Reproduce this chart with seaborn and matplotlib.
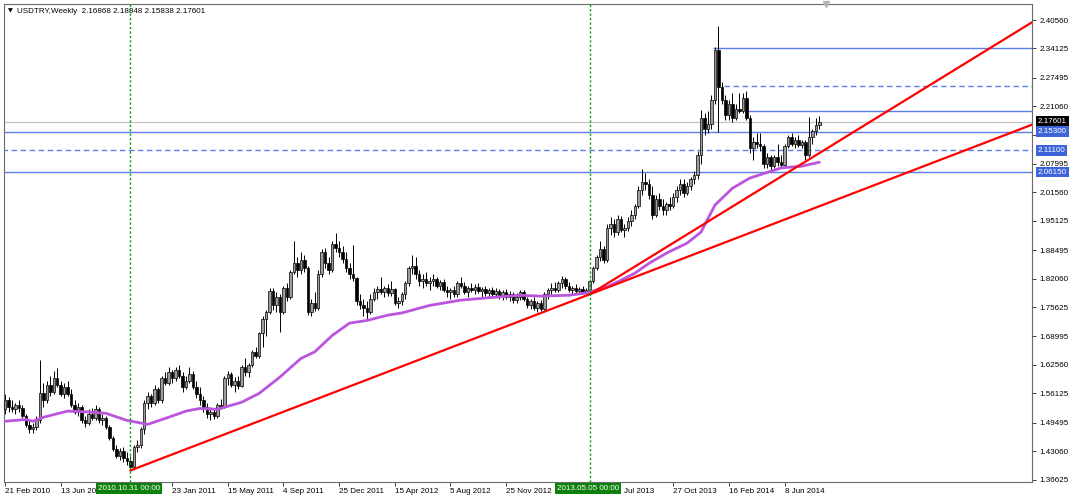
import numpy as np
import pandas as pd
import seaborn as sns
import matplotlib.pyplot as plt

sns.set_theme(style="white")
plt.rcParams['font.family'] = ['Liberation Sans', 'DejaVu Sans']

# weekly USDTRY candles, one per week from 21 Feb 2010 to 17 Aug 2014
opens = [1.525, 1.545, 1.530, 1.525, 1.535, 1.528, 1.510, 1.490, 1.480, 1.485,
         1.500, 1.561, 1.545, 1.580, 1.565, 1.595, 1.580, 1.560, 1.575, 1.560,
         1.535, 1.520, 1.530, 1.500, 1.495, 1.515, 1.505, 1.525, 1.500, 1.505,
         1.485, 1.460, 1.435, 1.420, 1.430, 1.415, 1.408, 1.395, 1.440, 1.445,
         1.480, 1.540, 1.555, 1.540, 1.570, 1.545, 1.595, 1.585, 1.610, 1.595,
         1.615, 1.600, 1.575, 1.590, 1.605, 1.575, 1.560, 1.545, 1.530, 1.515,
         1.520, 1.510, 1.535, 1.530, 1.595, 1.605, 1.580, 1.590, 1.578, 1.620,
         1.610, 1.625, 1.655, 1.645, 1.697, 1.730, 1.745, 1.792, 1.760, 1.780,
         1.745, 1.800, 1.780, 1.835, 1.855, 1.840, 1.862, 1.845, 1.745, 1.765,
         1.755, 1.830, 1.880, 1.855, 1.840, 1.900, 1.890, 1.880, 1.865, 1.845,
         1.830, 1.822, 1.770, 1.760, 1.755, 1.745, 1.775, 1.790, 1.798, 1.790,
         1.800, 1.788, 1.798, 1.765, 1.770, 1.785, 1.810, 1.845, 1.850, 1.830,
         1.815, 1.820, 1.810, 1.815, 1.820, 1.805, 1.812, 1.795, 1.790, 1.795,
         1.785, 1.810, 1.805, 1.790, 1.800, 1.795, 1.802, 1.792, 1.798, 1.788,
         1.795, 1.785, 1.792, 1.780, 1.790, 1.780, 1.785, 1.772, 1.780, 1.790,
         1.775, 1.760, 1.770, 1.755, 1.765, 1.752, 1.785, 1.795, 1.800, 1.795,
         1.810, 1.820, 1.805, 1.795, 1.800, 1.792, 1.798, 1.790, 1.795, 1.815,
         1.845, 1.870, 1.888, 1.862, 1.935, 1.945, 1.925, 1.955, 1.930, 1.935,
         1.950, 1.965, 1.985, 2.020, 2.040, 2.035, 2.010, 1.965, 2.000, 1.985,
         1.975, 1.990, 1.985, 2.005, 2.020, 2.035, 2.015, 2.030, 2.045, 2.055,
         2.100, 2.185, 2.160, 2.170, 2.225, 2.338, 2.255, 2.225, 2.190, 2.215,
         2.185, 2.205, 2.200, 2.230, 2.185, 2.115, 2.130, 2.125, 2.120, 2.080,
         2.095, 2.075, 2.095, 2.085, 2.078, 2.120, 2.140, 2.125, 2.135, 2.122,
         2.130, 2.100, 2.140, 2.155, 2.16868]
highs = [1.560, 1.552, 1.545, 1.540, 1.545, 1.535, 1.515, 1.500, 1.495, 1.510,
         1.636, 1.585, 1.590, 1.600, 1.612, 1.618, 1.590, 1.585, 1.590, 1.570,
         1.545, 1.540, 1.535, 1.510, 1.525, 1.528, 1.535, 1.530, 1.515, 1.510,
         1.490, 1.465, 1.445, 1.438, 1.440, 1.428, 1.420, 1.445, 1.455, 1.485,
         1.545, 1.565, 1.560, 1.580, 1.575, 1.600, 1.610, 1.620, 1.615, 1.620,
         1.625, 1.610, 1.600, 1.620, 1.612, 1.590, 1.575, 1.555, 1.540, 1.530,
         1.528, 1.540, 1.548, 1.600, 1.612, 1.610, 1.598, 1.600, 1.625, 1.640,
         1.630, 1.660, 1.665, 1.700, 1.735, 1.750, 1.800, 1.800, 1.790, 1.785,
         1.805, 1.810, 1.840, 1.905, 1.870, 1.880, 1.875, 1.850, 1.775, 1.790,
         1.840, 1.888, 1.890, 1.870, 1.905, 1.923, 1.905, 1.895, 1.880, 1.855,
         1.896, 1.825, 1.785, 1.775, 1.770, 1.785, 1.800, 1.805, 1.825, 1.805,
         1.808, 1.815, 1.800, 1.780, 1.790, 1.815, 1.850, 1.875, 1.870, 1.840,
         1.830, 1.835, 1.825, 1.830, 1.825, 1.818, 1.820, 1.805, 1.800, 1.805,
         1.815, 1.825, 1.812, 1.805, 1.810, 1.808, 1.810, 1.802, 1.805, 1.800,
         1.802, 1.800, 1.798, 1.795, 1.798, 1.792, 1.790, 1.788, 1.795, 1.795,
         1.780, 1.775, 1.778, 1.770, 1.772, 1.790, 1.800, 1.810, 1.812, 1.815,
         1.826, 1.825, 1.812, 1.805, 1.808, 1.802, 1.805, 1.800, 1.820, 1.850,
         1.875, 1.905, 1.895, 1.945, 1.960, 1.955, 1.965, 1.962, 1.945, 1.960,
         1.975, 1.990, 2.030, 2.068, 2.060, 2.045, 2.030, 2.010, 2.015, 2.000,
         1.995, 2.005, 2.015, 2.030, 2.045, 2.045, 2.040, 2.050, 2.065, 2.110,
         2.201, 2.195, 2.200, 2.235, 2.345, 2.391, 2.265, 2.235, 2.225, 2.240,
         2.215, 2.240, 2.240, 2.245, 2.190, 2.140, 2.150, 2.150, 2.125, 2.105,
         2.100, 2.100, 2.125, 2.100, 2.125, 2.145, 2.150, 2.140, 2.145, 2.135,
         2.135, 2.186, 2.160, 2.185, 2.18848]
lows = [1.515, 1.520, 1.518, 1.515, 1.520, 1.505, 1.485, 1.472, 1.472, 1.478,
        1.495, 1.530, 1.540, 1.555, 1.560, 1.575, 1.555, 1.550, 1.555, 1.530,
        1.515, 1.510, 1.495, 1.485, 1.490, 1.500, 1.500, 1.495, 1.490, 1.480,
        1.455, 1.430, 1.415, 1.410, 1.405, 1.398, 1.387, 1.390, 1.428, 1.438,
        1.470, 1.525, 1.530, 1.535, 1.540, 1.540, 1.580, 1.580, 1.585, 1.590,
        1.595, 1.565, 1.570, 1.585, 1.570, 1.550, 1.535, 1.520, 1.505, 1.500,
        1.502, 1.505, 1.525, 1.528, 1.580, 1.575, 1.565, 1.570, 1.575, 1.600,
        1.598, 1.620, 1.640, 1.640, 1.665, 1.690, 1.740, 1.750, 1.745, 1.700,
        1.740, 1.770, 1.775, 1.830, 1.825, 1.830, 1.835, 1.738, 1.735, 1.748,
        1.750, 1.825, 1.845, 1.830, 1.835, 1.880, 1.870, 1.855, 1.835, 1.820,
        1.815, 1.760, 1.752, 1.735, 1.730, 1.740, 1.770, 1.775, 1.785, 1.780,
        1.782, 1.782, 1.760, 1.755, 1.762, 1.775, 1.805, 1.830, 1.820, 1.805,
        1.800, 1.805, 1.795, 1.805, 1.800, 1.795, 1.790, 1.780, 1.775, 1.780,
        1.780, 1.800, 1.785, 1.780, 1.790, 1.785, 1.788, 1.780, 1.782, 1.780,
        1.778, 1.780, 1.775, 1.772, 1.775, 1.770, 1.765, 1.765, 1.772, 1.770,
        1.755, 1.752, 1.750, 1.745, 1.748, 1.750, 1.775, 1.785, 1.790, 1.790,
        1.800, 1.798, 1.790, 1.785, 1.788, 1.785, 1.788, 1.786, 1.786, 1.810,
        1.840, 1.860, 1.855, 1.858, 1.920, 1.915, 1.920, 1.925, 1.915, 1.928,
        1.940, 1.955, 1.980, 2.010, 2.020, 2.000, 1.955, 1.960, 1.975, 1.965,
        1.965, 1.975, 1.980, 1.995, 2.010, 2.005, 2.010, 2.020, 2.035, 2.045,
        2.080, 2.145, 2.150, 2.160, 2.215, 2.153, 2.215, 2.180, 2.180, 2.175,
        2.180, 2.195, 2.195, 2.180, 2.105, 2.090, 2.115, 2.110, 2.070, 2.070,
        2.062, 2.070, 2.075, 2.072, 2.075, 2.115, 2.120, 2.115, 2.118, 2.115,
        2.090, 2.095, 2.125, 2.145, 2.15838]
closes = [1.545, 1.530, 1.525, 1.535, 1.528, 1.510, 1.490, 1.480, 1.485, 1.500,
          1.561, 1.545, 1.580, 1.565, 1.595, 1.580, 1.560, 1.575, 1.560, 1.535,
          1.520, 1.530, 1.500, 1.495, 1.515, 1.505, 1.525, 1.500, 1.505, 1.485,
          1.460, 1.435, 1.420, 1.430, 1.415, 1.408, 1.395, 1.440, 1.445, 1.480,
          1.540, 1.555, 1.540, 1.570, 1.545, 1.595, 1.585, 1.610, 1.595, 1.615,
          1.600, 1.575, 1.590, 1.605, 1.575, 1.560, 1.545, 1.530, 1.515, 1.520,
          1.510, 1.535, 1.530, 1.595, 1.605, 1.580, 1.590, 1.578, 1.620, 1.610,
          1.625, 1.655, 1.645, 1.697, 1.730, 1.745, 1.792, 1.760, 1.780, 1.745,
          1.800, 1.780, 1.835, 1.855, 1.840, 1.862, 1.845, 1.745, 1.765, 1.755,
          1.830, 1.880, 1.855, 1.840, 1.900, 1.890, 1.880, 1.865, 1.845, 1.830,
          1.822, 1.770, 1.760, 1.755, 1.745, 1.775, 1.790, 1.798, 1.790, 1.800,
          1.788, 1.798, 1.765, 1.770, 1.785, 1.810, 1.845, 1.850, 1.830, 1.815,
          1.820, 1.810, 1.815, 1.820, 1.805, 1.812, 1.795, 1.790, 1.795, 1.785,
          1.810, 1.805, 1.790, 1.800, 1.795, 1.802, 1.792, 1.798, 1.788, 1.795,
          1.785, 1.792, 1.780, 1.790, 1.780, 1.785, 1.772, 1.780, 1.790, 1.775,
          1.760, 1.770, 1.755, 1.765, 1.752, 1.785, 1.795, 1.800, 1.795, 1.810,
          1.820, 1.805, 1.795, 1.800, 1.792, 1.798, 1.790, 1.795, 1.815, 1.845,
          1.870, 1.888, 1.862, 1.935, 1.945, 1.925, 1.955, 1.930, 1.935, 1.950,
          1.965, 1.985, 2.020, 2.040, 2.035, 2.010, 1.965, 2.000, 1.985, 1.975,
          1.990, 1.985, 2.005, 2.020, 2.035, 2.015, 2.030, 2.045, 2.055, 2.100,
          2.185, 2.160, 2.170, 2.225, 2.338, 2.255, 2.225, 2.190, 2.215, 2.185,
          2.205, 2.200, 2.230, 2.185, 2.115, 2.130, 2.125, 2.120, 2.080, 2.095,
          2.075, 2.095, 2.085, 2.078, 2.120, 2.140, 2.125, 2.135, 2.122, 2.130,
          2.100, 2.140, 2.155, 2.169, 2.17601]

# purple moving average, read every few weeks (week index, value)
ma_week = [0, 6, 8, 11, 18, 24, 29, 35, 41, 47, 52, 56, 61, 68, 73, 79, 85, 89, 94,
           99, 104, 110, 114, 122, 131, 140, 148, 154, 162, 167, 173, 177, 181, 185,
           190, 196, 200, 204, 209, 214, 223, 229, 234]
ma_value = [1.498, 1.502, 1.498, 1.507, 1.521, 1.519, 1.516, 1.500, 1.491, 1.507,
            1.521, 1.527, 1.525, 1.541, 1.561, 1.598, 1.640, 1.655, 1.692, 1.720,
            1.726, 1.738, 1.743, 1.760, 1.772, 1.778, 1.783, 1.781, 1.783, 1.788,
            1.802, 1.817, 1.833, 1.855, 1.878, 1.901, 1.926, 1.987, 2.025, 2.048,
            2.071, 2.075, 2.084]

# red trend lines: two anchor points each, drawn as rays to the right
trend1_week = [36, 168]
trend1_price = [1.3866, 1.7851]
trend2_week = [168, 295]
trend2_price = [1.7851, 2.4000]

# horizontal levels (price, first week, dashed?)
level_price = [2.15300, 2.11100, 2.06150, 2.34125, 2.2570, 2.2000]
level_start = [-1, -1, -1, 203.3, 206.5, 213.4]
level_dashed = [False, True, False, False, True, False]
last_price = 2.17601

# marked dates (vertical lines)
vline_week = [36, 168]
vline_label = ["2010.10.31 00:00", "2013.05.05 00:00"]

# time scale: labels hidden behind the date boxes are left blank or cut
xtick_week = list(range(0, 225, 16))
xtick_label = ["21 Feb 2010", "13 Jun 20", "", "23 Jan 2011", "15 May 2011",
               "4 Sep 2011", "25 Dec 2011", "15 Apr 2012", "5 Aug 2012", "25 Nov 2012",
               "", "", "27 Oct 2013", "16 Feb 2014", "8 Jun 2014"]
jul_week = 176
jul_label = "Jul 2013"
ytick_price = [2.40560, 2.34125, 2.27495, 2.21060, 2.14625, 2.07995, 2.01560, 1.95125,
               1.88495, 1.82060, 1.75625, 1.68995, 1.62560, 1.56125, 1.49495, 1.43060, 1.36625]

df = pd.DataFrame({"open": opens, "high": highs, "low": lows, "close": closes})
df["week"] = np.arange(len(df))
up = df["close"] >= df["open"]

fig = plt.figure(figsize=(10.72, 5.0), dpi=100)
fig.patch.set_facecolor("white")
ax = fig.add_axes([4 / 1072, 18 / 500, 1028 / 1072, 478 / 500])
ax.set_facecolor("white")
xmax = 295.1
ax.set_xlim(-0.3, xmax)
ax.set_ylim(1.3606, 2.4418)

# levels behind the candles
for p, s, d in zip(level_price, level_start, level_dashed):
    ax.hlines(p, s if s >= 0 else -1, xmax + 1, color="#5a7fe6", lw=1.0,
              linestyles=(0, (4, 2.5)) if d else "solid", zorder=1)
ax.axhline(last_price, color="#c4c4c4", lw=0.9, zorder=1)

# candles
ax.vlines(df["week"], df["low"], df["high"], color="black", lw=0.7, zorder=2)
body = (df["close"] - df["open"]).abs().clip(lower=0.0015)
bottom = df[["open", "close"]].min(axis=1)
ax.bar(df["week"][up], body[up], bottom=bottom[up], width=0.72, color="#9c9c9c",
       edgecolor="black", linewidth=0.5, zorder=3)
ax.bar(df["week"][~up], body[~up], bottom=bottom[~up], width=0.72, color="black",
       edgecolor="black", linewidth=0.5, zorder=3)

# moving average
sns.lineplot(x=ma_week, y=ma_value, color="#bb55dd", lw=2.0, ax=ax, zorder=4)

# trend rays
for wk, pr in [(trend1_week, trend1_price), (trend2_week, trend2_price)]:
    slope = (pr[1] - pr[0]) / (wk[1] - wk[0])
    xs = [wk[0], xmax]
    ys = [pr[0], pr[0] + slope * (xmax - wk[0])]
    sns.lineplot(x=xs, y=ys, color="red", lw=1.6, ax=ax, zorder=5)

# vertical date lines and their labels
for w, lab in zip(vline_week, vline_label):
    ax.axvline(w, color="#00a000", lw=1.0, ls=(0, (1.6, 1.6)), zorder=6)
    ax.annotate(lab, xy=(w, 0), xycoords=("data", "axes fraction"),
                xytext=(-1, -2.2), textcoords="offset points", ha="center", va="top",
                fontsize=5.8, color="white", zorder=10, annotation_clip=False,
                bbox=dict(boxstyle="square,pad=0.22", fc="#0b800b", ec="none"))

# axes and ticks
ax.yaxis.tick_right()
ax.set_yticks(ytick_price)
ax.set_yticklabels(["" if abs(v - 2.14625) < 1e-6 else f"{v:.5f}" for v in ytick_price])
ax.set_xticks(xtick_week)
ax.set_xticklabels(xtick_label)
for t in ax.get_xticklabels():
    t.set_ha("left")
ax.annotate(jul_label, xy=(jul_week, 0), xycoords=("data", "axes fraction"),
            xytext=(4.5, -4.2), textcoords="offset points", ha="left", va="top",
            fontsize=5.8, color="black", annotation_clip=False)
ax.tick_params(axis="both", direction="out", length=3, width=0.7, color="#404040",
               labelsize=5.8, labelcolor="black", pad=2)
ax.tick_params(axis="y", right=True, left=False, pad=2.5)
ax.tick_params(axis="x", bottom=True, pad=1.5)
for sp in ax.spines.values():
    sp.set_color("#6a6a6a")
    sp.set_linewidth(0.8)
ax.set_xlabel("")
ax.set_ylabel("")
ax.grid(False)

# price boxes on the right scale
for p, fc in [(last_price, "black"), (2.15300, "#3d64d8"), (2.11100, "#3d64d8"),
              (2.06150, "#3d64d8")]:
    ax.annotate(f"{p:.5f}", xy=(1, p), xycoords=("axes fraction", "data"),
                xytext=(4.2, 0), textcoords="offset points", ha="left", va="center",
                fontsize=5.8, color="white", zorder=10, annotation_clip=False,
                bbox=dict(boxstyle="square,pad=0.22", fc=fc, ec="none"))

# header text
ax.text(0.0058, 0.985, "\u25bc", transform=ax.transAxes, fontsize=4.5, va="center",
        ha="center", family=["DejaVu Sans"], color="black")
ax.text(0.0125, 0.985, "USDTRY,Weekly  2.16868 2.18848 2.15838 2.17601",
        transform=ax.transAxes, fontsize=5.8, va="center", ha="left", color="black")
# chart shift marker
ax.plot([236], [2.4418], marker="v", ms=5, color="#b4b4b4", clip_on=False, zorder=10)

fig.savefig("out.png", dpi=100, facecolor="white")
